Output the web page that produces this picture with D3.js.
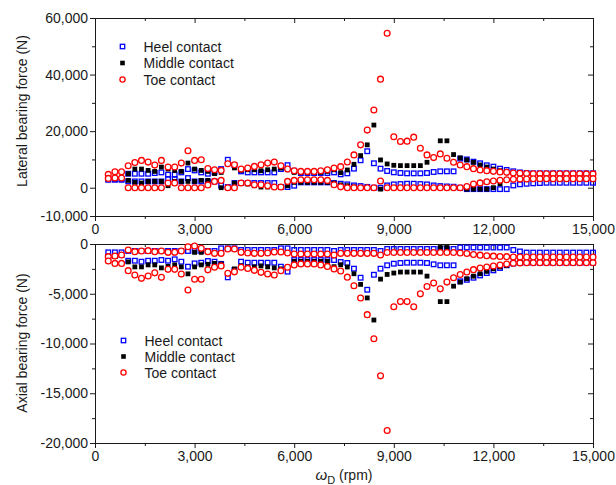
<!DOCTYPE html>
<html>
<head>
<meta charset="utf-8">
<script src="https://cdn.jsdelivr.net/npm/d3@7"></script>
<style>
  html, body { margin: 0; padding: 0; background: #fff; }
  svg { display: block; font-family: "Liberation Sans", Arial, sans-serif; }
</style>
</head>
<body>
<svg id="chart" width="616" height="485"></svg>
<script>
// Rotor speed samples (rpm)
const rpm = [400,600,800,1000,1200,1400,1600,1800,2000,2200,2400,2600,2800,3000,3200,3400,3600,3800,4000,4200,
  4400,4600,4800,5000,5200,5400,5600,5800,6000,6200,6400,6600,6800,7000,7200,7400,7600,7800,8000,8200,
  8400,8600,8800,9000,9200,9400,9600,9800,10000,10200,10400,10600,10800,11000,11200,11400,11600,11800,12000,12200,
  12400,12600,12800,13000,13200,13400,13600,13800,14000,14200,14400,14600,14800,15000];

// Lateral bearing force (N): upper and lower envelope for each contact type
const heelLatHi = [3000,3000,3000,4940,4940,4940,4940,5180,5410,4590,
  4590,5410,6590,6120,5410,4940,5410,6590,9880,8000,
  5770,5410,5410,5410,5410,5410,6590,7970,6000,5180,
  5180,5180,5180,5180,5410,4730,5080,6740,9700,12900,
  8640,6740,5910,5440,5200,5080,5080,5080,5200,5560,
  5790,5790,5790,10300,10000,9200,8640,7930,7450,6740,
  6270,5800,5400,5200,5100,5100,5100,5100,5100,5100,
  5100,5100,5100,5100];
const heelLatLo = [2820,2820,2820,2230,2230,2230,2230,2230,2230,3060,
  3060,2230,3410,2230,2230,2230,2230,710,240,1650,
  1650,1650,1650,1650,1650,1650,240,240,710,1880,
  1880,1880,1880,1880,1650,1410,1170,810,580,300,
  0,0,810,1170,1290,1410,1410,1290,1170,810,
  580,450,350,0,-500,-500,-500,-500,-500,-500,
  -500,800,1200,1400,1550,1650,1750,1750,1750,1750,
  1750,1750,1750,1750];
const midLatHi = [3290,3410,3410,4940,6590,6590,6120,5770,7300,6590,
  6120,5770,8710,6590,6120,5770,5000,5410,8470,7000,
  6120,6350,6350,6000,6350,6590,6940,6350,5410,5410,
  5410,5410,5410,5770,6350,5320,6270,8280,11360,15160,
  22150,9820,8400,7930,7810,7810,7810,7810,8990,10650,
  16580,16580,11720,10530,9820,8990,8040,7300,6600,6000,
  5600,5300,5080,5000,4960,4960,4960,4920,4920,4900,
  4900,4900,4880,4880];
const midLatLo = [3290,3410,3410,2590,1880,1650,2230,2230,2230,710,
  2230,2230,2230,2230,2590,2590,2230,0,0,1650,
  1650,1300,700,240,240,240,240,700,1880,1880,
  1880,1880,1880,1880,1650,1000,700,300,0,0,
  0,-500,0,0,0,0,0,0,0,0,
  0,0,0,0,-500,-500,-500,-500,0,1400,
  2800,2950,3050,3100,3150,3200,3200,3200,3200,3200,
  3200,3200,3200,3200];
const toeLatHi = [4710,5650,5650,7770,8940,9650,9060,8000,9650,7300,
  7300,8710,13060,9650,9880,6800,6350,6120,8470,8120,
  6590,6940,7530,8120,8710,9060,7770,6590,6000,5770,
  5770,5770,6000,6350,6940,7450,9110,11600,15160,20370,
  27480,38390,54630,18000,16340,16460,17880,13970,11600,10650,
  11960,10410,8990,8040,7450,6740,6270,6030,5790,5560,
  5440,5200,5080,5000,4960,4960,4960,4920,4920,4900,
  4900,4900,4880,4880];
const toeLatLo = [3290,3410,3410,0,0,0,0,0,0,1650,
  1650,0,0,0,0,1000,2230,2590,0,0,
  1650,1650,1060,1060,710,240,240,2230,2590,2820,
  2820,2820,2820,2590,1060,300,0,0,0,0,
  0,2350,0,0,0,0,0,0,0,0,
  0,0,0,0,400,1300,1700,2100,2350,2600,
  2800,2950,3050,3100,3150,3200,3200,3200,3200,3200,
  3200,3200,3200,3200];

// Axial bearing force (N): branch nearer zero and the more negative branch
const heelAxHi = [-840,-840,-840,-700,-700,-700,-700,-700,-700,-700,
  -700,-700,-700,-700,-700,-700,-700,-435,-435,-435,
  -600,-600,-600,-600,-600,-600,-435,-435,-600,-600,
  -600,-600,-600,-600,-700,-600,-600,-600,-600,-600,
  -600,-700,-500,-500,-500,-500,-500,-500,-500,-500,
  -500,-500,-500,-350,-350,-350,-350,-350,-350,-350,
  -350,-600,-750,-860,-860,-860,-860,-860,-860,-860,
  -860,-860,-860,-860];
const heelAxLo = [-1270,-1210,-1110,-1680,-1680,-1780,-1680,-1680,-1610,-1680,
  -1540,-1780,-2280,-1950,-1880,-1710,-1780,-2000,-3350,-2610,
  -1780,-1880,-1880,-1880,-1880,-1880,-2280,-2780,-1610,-1610,
  -1610,-1610,-1610,-1610,-1610,-1810,-1910,-2480,-3390,-4600,
  -3090,-2480,-2140,-1980,-1910,-1880,-1880,-1880,-1910,-2040,
  -2140,-2140,-2140,-3750,-3600,-3390,-3160,-2920,-2650,-2410,
  -2140,-1950,-1900,-1880,-1880,-1880,-1880,-1880,-1880,-1880,
  -1880,-1880,-1880,-1880];
const midAxHi = [-1270,-1210,-1110,-600,-770,-700,-670,-770,-700,-840,
  -840,-700,-270,-840,-840,-770,-940,-940,-500,-500,
  -840,-900,-940,-940,-900,-800,-800,-900,-1000,-1000,
  -1000,-1000,-1000,-1000,-1110,-940,-940,-940,-940,-940,
  -940,-1100,-860,-860,-860,-860,-860,-860,-860,-860,
  -350,-350,-860,-900,-950,-1050,-1120,-1180,-1220,-1250,
  -1270,-1300,-1300,-1300,-1300,-1300,-1300,-1300,-1300,-1300,
  -1300,-1300,-1300,-1300];
const midAxLo = [-1270,-1210,-1110,-1800,-2300,-2300,-2100,-2100,-2400,-2250,
  -2100,-2300,-3000,-2300,-2100,-2040,-1950,-2000,-2950,-2500,
  -2200,-2300,-2300,-2200,-2300,-2400,-2500,-2300,-1750,-1750,
  -1750,-1750,-1750,-1750,-2280,-2080,-2310,-2990,-4060,-5420,
  -7640,-3530,-3060,-2920,-2820,-2820,-2820,-2820,-3230,-3930,
  -5790,-5790,-4240,-3830,-3490,-3230,-2990,-2750,-2500,-2300,
  -2150,-2000,-1880,-1880,-1880,-1880,-1880,-1880,-1880,-1880,
  -1880,-1880,-1880,-1880];
const toeAxHi = [-1270,-1210,-1110,-600,-770,-700,-670,-770,-700,-840,
  -840,-700,-270,-200,-435,-770,-940,-940,-500,-500,
  -840,-900,-940,-940,-900,-800,-800,-900,-1000,-1000,
  -1000,-1000,-1000,-1000,-1110,-940,-940,-940,-940,-940,
  -940,-1100,-860,-860,-860,-860,-860,-860,-860,-860,
  -860,-860,-860,-900,-950,-1050,-1120,-1180,-1220,-1250,
  -1270,-1300,-1300,-1300,-1300,-1300,-1300,-1300,-1300,-1300,
  -1300,-1300,-1300,-1300];
const toeAxLo = [-1710,-1950,-1950,-2680,-3120,-3450,-3220,-2900,-3350,-2550,
  -2550,-3020,-4620,-3550,-3550,-2600,-2340,-2200,-2950,-2800,
  -2340,-2450,-2650,-2850,-3020,-3120,-2680,-2340,-2100,-2000,
  -2000,-2000,-2100,-2250,-2500,-2720,-3330,-4200,-5420,-7100,
  -9530,-13250,-18750,-6300,-5790,-5790,-6300,-5010,-4270,-3930,
  -4510,-3830,-3390,-3060,-2820,-2580,-2410,-2310,-2210,-2110,
  -2010,-1940,-1900,-1880,-1880,-1880,-1880,-1880,-1880,-1880,
  -1880,-1880,-1880,-1880];

// Axis ticks
const xTicks = [0,3000,6000,9000,12000,15000];
const xMinor = [1500,4500,7500,10500,13500];
const latTicks = [-10000,0,20000,40000,60000];
const latMinor = [10000,30000,50000];
const axTicks = [-20000,-15000,-10000,-5000,0];
const axMinor = [-17500,-12500,-7500,-2500];

const seriesNames = ["Heel contact", "Middle contact", "Toe contact"];

// ---- layout ----
const svg = d3.select("#chart");
const L = 95, R = 593;
const top1 = 18, bot1 = 216, top2 = 244, bot2 = 443;
const ink = "#1a1a1a";
const BLUE = "#0000ff", RED = "#ff0000", BLACK = "#000000";

const x = d3.scaleLinear().domain([0, 15000]).range([L, R]);
const yLat = d3.scaleLinear().domain([-10000, 60000]).range([bot1, top1]);
const yAx = d3.scaleLinear().domain([-20000, 0]).range([bot2, top2]);

const fmt = v => (v < 0 ? "-" : "") + d3.format(",")(Math.abs(v));

function styleAxis(g) {
  g.select(".domain").remove();
  g.selectAll(".tick line").attr("stroke", ink).attr("stroke-width", 1);
  g.selectAll(".tick text").attr("fill", ink).style("font-size", "14px")
    .style("font-family", '"Liberation Sans", Arial, sans-serif');
}

function drawFrame(y, yTicks, yMinor, yTop, yBot) {
  const g = svg.append("g");
  // bottom axis with labels (outward ticks)
  g.append("g").attr("transform", `translate(0,${yBot})`)
    .call(d3.axisBottom(x).tickValues(xTicks).tickSize(5).tickSizeOuter(0).tickPadding(3).tickFormat(fmt))
    .call(styleAxis);
  g.append("g").attr("transform", `translate(0,${yBot})`)
    .call(d3.axisBottom(x).tickValues(xMinor).tickSize(3).tickSizeOuter(0).tickFormat(""))
    .call(styleAxis);
  // top mirror ticks (inward)
  g.append("g").attr("transform", `translate(0,${yTop})`)
    .call(d3.axisTop(x).tickValues(xTicks).tickSize(-5).tickSizeOuter(0).tickFormat(""))
    .call(styleAxis);
  g.append("g").attr("transform", `translate(0,${yTop})`)
    .call(d3.axisTop(x).tickValues(xMinor).tickSize(-3).tickSizeOuter(0).tickFormat(""))
    .call(styleAxis);
  // left axis with labels (outward ticks)
  g.append("g").attr("transform", `translate(${L},0)`)
    .call(d3.axisLeft(y).tickValues(yTicks).tickSize(5).tickSizeOuter(0).tickPadding(2).tickFormat(fmt))
    .call(styleAxis);
  g.append("g").attr("transform", `translate(${L},0)`)
    .call(d3.axisLeft(y).tickValues(yMinor).tickSize(3).tickSizeOuter(0).tickFormat(""))
    .call(styleAxis);
  // right mirror ticks (inward)
  g.append("g").attr("transform", `translate(${R},0)`)
    .call(d3.axisRight(y).tickValues(yTicks).tickSize(-5).tickSizeOuter(0).tickFormat(""))
    .call(styleAxis);
  g.append("g").attr("transform", `translate(${R},0)`)
    .call(d3.axisRight(y).tickValues(yMinor).tickSize(-3).tickSizeOuter(0).tickFormat(""))
    .call(styleAxis);
  // plot frame
  g.append("rect").attr("x", L + 0.5).attr("y", yTop + 0.5)
    .attr("width", R - L).attr("height", yBot - yTop)
    .attr("fill", "none").attr("stroke", ink).attr("stroke-width", 1);
}

drawFrame(yLat, latTicks, latMinor, top1, bot1);
drawFrame(yAx, axTicks, axMinor, top2, bot2);

// ---- markers ----
function drawSquares(y, arr, filled, color, size) {
  svg.append("g").selectAll("rect").data(arr).join("rect")
    .attr("x", (d, i) => x(rpm[i]) - size / 2)
    .attr("y", d => y(d) - size / 2)
    .attr("width", size).attr("height", size)
    .attr("fill", filled ? color : "none")
    .attr("stroke", filled ? "none" : color)
    .attr("stroke-width", filled ? 0 : 1.3);
}
function drawCircles(y, arr) {
  svg.append("g").selectAll("circle").data(arr).join("circle")
    .attr("cx", (d, i) => x(rpm[i]))
    .attr("cy", d => y(d))
    .attr("r", 2.9)
    .attr("fill", "#fff").attr("stroke", RED).attr("stroke-width", 1.3);
}

function drawPanel(y, heel, mid, toe) {
  heel.forEach(a => drawSquares(y, a, false, BLUE, 4.6));
  mid.forEach(a => drawSquares(y, a, true, BLACK, 4.8));
  toe.forEach(a => drawCircles(y, a));
}
drawPanel(yLat, [heelLatHi, heelLatLo], [midLatHi, midLatLo], [toeLatHi, toeLatLo]);
drawPanel(yAx, [heelAxHi, heelAxLo], [midAxHi, midAxLo], [toeAxHi, toeAxLo]);

// ---- legends ----
function legend(x0, y0, step) {
  const g = svg.append("g");
  seriesNames.forEach((name, k) => {
    const cy = y0 + k * step;
    if (k === 0) g.append("rect").attr("x", x0 - 2.2).attr("y", cy - 2.2).attr("width", 4.4).attr("height", 4.4)
      .attr("fill", "none").attr("stroke", BLUE).attr("stroke-width", 1.3);
    if (k === 1) g.append("rect").attr("x", x0 - 2.3).attr("y", cy - 2.3).attr("width", 4.6).attr("height", 4.6)
      .attr("fill", BLACK);
    if (k === 2) g.append("circle").attr("cx", x0).attr("cy", cy).attr("r", 2.6)
      .attr("fill", "#fff").attr("stroke", RED).attr("stroke-width", 1.3);
    g.append("text").attr("x", x0 + 21).attr("y", cy).attr("dy", "0.36em")
      .attr("fill", ink).style("font-size", "14px").text(name);
  });
}
legend(122.5, 46.5, 16.5);
legend(123.5, 340.5, 16);

// ---- axis titles ----
svg.append("text").attr("transform", `translate(27,111) rotate(-90)`)
  .attr("text-anchor", "middle").attr("fill", ink).style("font-size", "14px")
  .text("Lateral bearing force (N)");
svg.append("text").attr("transform", `translate(27,343) rotate(-90)`)
  .attr("text-anchor", "middle").attr("fill", ink).style("font-size", "14px")
  .text("Axial bearing force (N)");

const xt = svg.append("text").attr("x", (L + R) / 2).attr("y", 480)
  .attr("text-anchor", "middle").attr("fill", ink).style("font-size", "14px");
xt.append("tspan").style("font-style", "italic").style("font-size", "15px").text("ω");
xt.append("tspan").attr("dy", 4).style("font-size", "11px").text("D");
xt.append("tspan").attr("dy", -4).text(" (rpm)");
</script>
</body>
</html>
